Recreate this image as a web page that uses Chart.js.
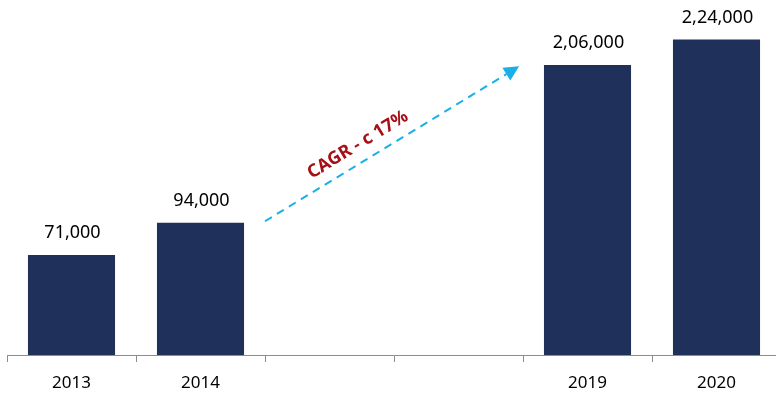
<!DOCTYPE html>
<html>
<head>
<meta charset="utf-8">
<script src="https://cdn.jsdelivr.net/npm/chart.js@4/dist/chart.umd.min.js"></script>
<style>
  html, body { margin: 0; padding: 0; background: #fff; overflow: hidden; }
  #wrap { width: 781px; height: 394px; position: relative; }
</style>
</head>
<body>
<div id="wrap"><canvas id="chart"></canvas></div>
<script>
var years = ["2013", "2014", "", "", "2019", "2020"];
var values = [71000, 94000, null, null, 206000, 224000];

// arrow from / to, in (category index, value)
var arrowFrom = [1.5, 95000];
var arrowTo = [3.47, 205000];
var cagrText = "CAGR - c 17%";

function indianFormat(n) {
  var s = String(Math.round(n));
  if (s.length <= 3) return s;
  var last3 = s.slice(-3);
  var rest = s.slice(0, -3);
  rest = rest.replace(/\B(?=(\d{2})+(?!\d))/g, ",");
  return rest + "," + last3;
}

var overlay = {
  id: "overlay",
  afterDatasetsDraw: function (chart) {
    var ctx = chart.ctx;
    var meta = chart.getDatasetMeta(0);
    ctx.save();
    ctx.fillStyle = "#000";
    ctx.font = "18px 'Noto Sans'";
    ctx.textAlign = "center";
    ctx.textBaseline = "alphabetic";
    meta.data.forEach(function (bar, i) {
      if (values[i] == null) return;
      ctx.fillText(indianFormat(values[i]), bar.x + 1, bar.y - 17);
    });

    var xs = chart.scales.x, ys = chart.scales.y;
    var x1 = xs.getPixelForValue(arrowFrom[0]), y1 = ys.getPixelForValue(arrowFrom[1]);
    var x2 = xs.getPixelForValue(arrowTo[0]), y2 = ys.getPixelForValue(arrowTo[1]);
    var ang = Math.atan2(y2 - y1, x2 - x1);
    var head = 15;
    var bx = x2 - Math.cos(ang) * head, by = y2 - Math.sin(ang) * head;

    ctx.strokeStyle = "#1AAFE6";
    ctx.lineWidth = 2;
    ctx.setLineDash([8, 6]);
    ctx.beginPath();
    ctx.moveTo(x1, y1);
    ctx.lineTo(bx, by);
    ctx.stroke();
    ctx.setLineDash([]);

    ctx.fillStyle = "#1AAFE6";
    ctx.beginPath();
    ctx.moveTo(x2, y2);
    ctx.lineTo(bx + Math.sin(ang) * 7.5, by - Math.cos(ang) * 7.5);
    ctx.lineTo(bx - Math.sin(ang) * 7.5, by + Math.cos(ang) * 7.5);
    ctx.closePath();
    ctx.fill();

    // text sits above the arrow, a bit before its middle
    var t = 0.4;
    var mx = x1 + (x2 - x1) * t, my = y1 + (y2 - y1) * t;
    var off = 17;
    mx += Math.sin(ang) * off;
    my -= Math.cos(ang) * off;
    ctx.translate(mx, my);
    ctx.rotate(ang);
    ctx.fillStyle = "#A50F15";
    ctx.font = "bold 18px 'Noto Sans'";
    ctx.textAlign = "center";
    ctx.textBaseline = "middle";
    ctx.fillText(cagrText, 0, 0);
    ctx.restore();
  }
};

new Chart(document.getElementById("chart"), {
  type: "bar",
  data: {
    labels: years,
    datasets: [{
      data: values,
      backgroundColor: "#1F315A",
      borderWidth: 0,
      barPercentage: 0.675,
      categoryPercentage: 1
    }]
  },
  options: {
    responsive: true,
    maintainAspectRatio: false,
    animation: false,
    layout: { padding: { top: 3, left: 7, right: 0, bottom: 0 } },
    plugins: { legend: { display: false }, tooltip: { enabled: false } },
    scales: {
      x: {
        offset: true,
        grid: {
          offset: true,
          drawOnChartArea: false,
          drawTicks: true,
          tickLength: 7,
          color: "#8C8C8C",
          lineWidth: 1
        },
        border: { display: true, color: "#8C8C8C", width: 1 },
        ticks: {
          color: "#000",
          padding: 11,
          maxRotation: 0,
          font: { family: "'Noto Sans'", size: 17 }
        },
        afterFit: function (scale) { scale.height = 39; }
      },
      y: {
        display: false,
        min: 0,
        max: 250000
      }
    }
  },
  plugins: [overlay]
});
</script>
</body>
</html>
